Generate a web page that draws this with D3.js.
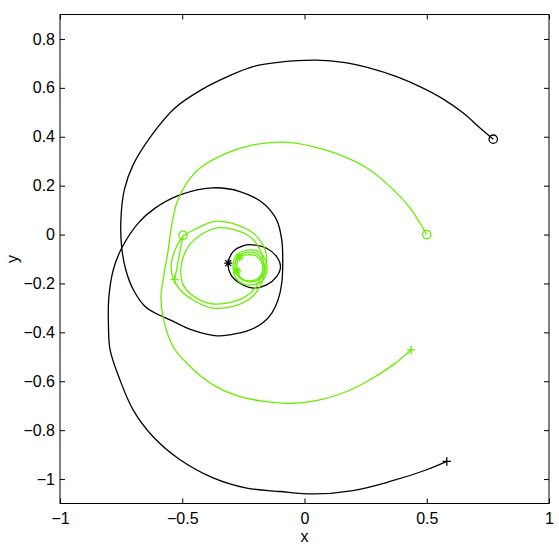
<!DOCTYPE html>
<html>
<head>
<meta charset="utf-8">
<script src="https://d3js.org/d3.v7.min.js"></script>
<style>
  body { margin: 0; background: #fff; }
  svg { display: block; font-family: "Liberation Sans", Arial, Helvetica, sans-serif; }
  .tick text { font-size: 16px; fill: #000; }
  .tick line { stroke: #000; }
  .domain { display: none; }
  .lbl { font-size: 16px; fill: #000; }
</style>
</head>
<body>
<script>
// tick values and labels
var xTicks = [-1, -0.5, 0, 0.5, 1];
var xTickLabels = ["\u22121", "\u22120.5", "0", "0.5", "1"];
var yTicks = [-1, -0.8, -0.6, -0.4, -0.2, 0, 0.2, 0.4, 0.6, 0.8];
var yTickLabels = ["\u22121", "\u22120.8", "\u22120.6", "\u22120.4", "\u22120.2", "0", "0.2", "0.4", "0.6", "0.8"];

// black curves: one long path from o to + (loops once in the middle), plus the small loop
var blackMain = [[0.772,0.390],[0.718,0.436],[0.648,0.498],[0.566,0.555],[0.472,0.605],[0.377,0.646],
  [0.268,0.681],[0.166,0.703],[0.050,0.713],[-0.100,0.705],[-0.211,0.687],[-0.317,0.645],[-0.415,0.596],
  [-0.530,0.518],[-0.624,0.408],[-0.701,0.285],[-0.737,0.183],[-0.751,0.060],[-0.748,-0.049],
  [-0.731,-0.144],[-0.700,-0.226],[-0.652,-0.294],[-0.611,-0.321],[-0.550,-0.349],[-0.461,-0.390],
  [-0.359,-0.414],[-0.305,-0.410],[-0.223,-0.390],[-0.170,-0.361],[-0.133,-0.320],[-0.108,-0.267],
  [-0.093,-0.198],[-0.089,-0.103],[-0.093,-0.022],[-0.114,0.060],[-0.169,0.128],[-0.264,0.176],
  [-0.378,0.191],[-0.509,0.162],[-0.611,0.108],[-0.680,0.047],[-0.748,-0.056],[-0.782,-0.144],
  [-0.800,-0.254],[-0.802,-0.362],[-0.795,-0.472],[-0.755,-0.594],[-0.701,-0.717],[-0.620,-0.826],
  [-0.509,-0.921],[-0.374,-0.995],[-0.236,-1.037],[-0.100,-1.051],[0.035,-1.061],[0.198,-1.047],
  [0.350,-1.010],[0.500,-0.962],[0.582,-0.928]];
var blackInner = [[-0.312,-0.117],[-0.292,-0.070],[-0.252,-0.046],[-0.211,-0.042],[-0.155,-0.056],
  [-0.114,-0.090],[-0.098,-0.132],[-0.114,-0.172],[-0.155,-0.206],[-0.209,-0.219],[-0.264,-0.199],[-0.301,-0.165]];

// green curves
var greenOuter = [[0.500,0.000],[0.431,0.109],[0.350,0.196],[0.254,0.273],[0.145,0.326],[0.035,0.360],
  [-0.080,0.378],[-0.209,0.367],[-0.318,0.333],[-0.427,0.272],[-0.482,0.210],[-0.523,0.128],[-0.545,0.027],
  [-0.558,-0.067],[-0.575,-0.164],[-0.587,-0.254],[-0.579,-0.335],[-0.538,-0.458],[-0.468,-0.540],
  [-0.374,-0.615],[-0.264,-0.663],[-0.155,-0.683],[-0.047,-0.690],[0.063,-0.676],[0.173,-0.642],
  [0.268,-0.594],[0.362,-0.533],[0.436,-0.472]];
var greenMid1 = [[-0.497,-0.008],[-0.436,0.027],[-0.366,0.054],[-0.277,0.040],[-0.211,0.007],[-0.170,-0.042],
  [-0.155,-0.090],[-0.162,-0.151],[-0.182,-0.213],[-0.223,-0.262],[-0.292,-0.294],[-0.381,-0.300],
  [-0.449,-0.272],[-0.504,-0.231],[-0.538,-0.177],[-0.545,-0.123],[-0.531,-0.067]];
var greenMid2 = [[-0.422,0.000],[-0.358,0.027],[-0.284,0.019],[-0.223,-0.009],[-0.186,-0.054],[-0.170,-0.103],
  [-0.174,-0.161],[-0.198,-0.214],[-0.243,-0.255],[-0.313,-0.279],[-0.382,-0.283],[-0.463,-0.245],
  [-0.497,-0.204],[-0.506,-0.150],[-0.497,-0.095],[-0.470,-0.041]];
var greenInnerA = [[-0.276,-0.095],[-0.243,-0.075],[-0.202,-0.075],[-0.174,-0.099],[-0.162,-0.136],
  [-0.174,-0.173],[-0.207,-0.193],[-0.247,-0.189],[-0.276,-0.165],[-0.284,-0.128]];
var greenInnerB = [[-0.268,-0.091],[-0.235,-0.083],[-0.198,-0.087],[-0.176,-0.112],[-0.170,-0.144],
  [-0.186,-0.177],[-0.219,-0.189],[-0.256,-0.181],[-0.274,-0.153],[-0.276,-0.120]];
var greenInnerC = [[-0.280,-0.087],[-0.239,-0.065],[-0.194,-0.067],[-0.164,-0.095],[-0.153,-0.136],
  [-0.166,-0.181],[-0.202,-0.204],[-0.251,-0.202],[-0.284,-0.173],[-0.292,-0.128]];
var greenLink = [[-0.497,-0.003],[-0.531,-0.184]];

// markers
var blackMarkers = [[0.772,0.390,"o"],[0.582,-0.928,"+"],[-0.312,-0.117,"*"]];
var greenMarkers = [[0.500,0.000,"o"],[-0.497,-0.003,"o"],[0.436,-0.472,"+"],[-0.531,-0.184,"+"],
  [-0.266,-0.093,"*"],[-0.276,-0.148,"*"]];

var W = 559, H = 546;
var margin = {left: 60, top: 14.5, right: 10, bottom: 42.5};
var width = W - margin.left - margin.right,
    height = H - margin.top - margin.bottom;
var black = "#000", green = "#66f000";

var svg = d3.select("body").append("svg")
    .attr("width", W)
    .attr("height", H);
var g = svg.append("g")
    .attr("transform", "translate(" + margin.left + "," + margin.top + ")");

var xScale = d3.scaleLinear().domain([-1, 1]).range([0, width]);
var yScale = d3.scaleLinear().domain([-1.1, 0.9]).range([height, 0]);

// axes with inward ticks, MATLAB style
g.append("g")
  .attr("transform", "translate(0," + height + ")")
  .call(d3.axisBottom(xScale).tickValues(xTicks).tickSize(-5).tickPadding(9)
    .tickFormat(function(d, i) { return xTickLabels[i]; }));
g.append("g")
  .call(d3.axisTop(xScale).tickValues(xTicks).tickSize(-5).tickFormat(""));
g.append("g")
  .call(d3.axisLeft(yScale).tickValues(yTicks).tickSize(-5).tickPadding(5)
    .tickFormat(function(d, i) { return yTickLabels[i]; }));
g.append("g")
  .attr("transform", "translate(" + width + ",0)")
  .call(d3.axisRight(yScale).tickValues(yTicks).tickSize(-5).tickFormat(""));

g.append("rect")
  .attr("x", 0).attr("y", 0)
  .attr("width", width).attr("height", height)
  .attr("fill", "none")
  .attr("stroke", "#000")
  .attr("stroke-width", 1);

var openLine = d3.line()
  .x(function(d) { return xScale(d[0]); })
  .y(function(d) { return yScale(d[1]); })
  .curve(d3.curveCatmullRom);
var closedLine = d3.line()
  .x(function(d) { return xScale(d[0]); })
  .y(function(d) { return yScale(d[1]); })
  .curve(d3.curveCatmullRomClosed);
var straight = d3.line()
  .x(function(d) { return xScale(d[0]); })
  .y(function(d) { return yScale(d[1]); });

function drawPath(gen, pts, color) {
  g.append("path")
    .attr("d", gen(pts))
    .attr("fill", "none")
    .attr("stroke", color)
    .attr("stroke-width", 1.3)
    .attr("stroke-linejoin", "round");
}

drawPath(openLine, blackMain, black);
drawPath(closedLine, blackInner, black);

drawPath(openLine, greenOuter, green);
drawPath(closedLine, greenMid1, green);
drawPath(closedLine, greenMid2, green);
drawPath(closedLine, greenInnerA, green);
drawPath(closedLine, greenInnerB, green);
drawPath(closedLine, greenInnerC, green);
drawPath(straight, greenLink, green);

function markerPath(d) {
  var cx = xScale(d[0]), cy = yScale(d[1]), s = 4.2, t = 3;
  if (d[2] == "+") {
    return "M" + (cx - s) + "," + cy + "H" + (cx + s) + "M" + cx + "," + (cy - s) + "V" + (cy + s);
  }
  // asterisk: plus and cross
  return "M" + (cx - 4) + "," + cy + "H" + (cx + 4) + "M" + cx + "," + (cy - 4) + "V" + (cy + 4) +
    "M" + (cx - t) + "," + (cy - t) + "L" + (cx + t) + "," + (cy + t) +
    "M" + (cx - t) + "," + (cy + t) + "L" + (cx + t) + "," + (cy - t);
}

function drawMarkers(list, color) {
  list.forEach(function(d) {
    if (d[2] == "o") {
      g.append("circle")
        .attr("cx", xScale(d[0])).attr("cy", yScale(d[1]))
        .attr("r", 4.2)
        .attr("fill", "none")
        .attr("stroke", color)
        .attr("stroke-width", 1.3);
    } else {
      g.append("path")
        .attr("d", markerPath(d))
        .attr("fill", "none")
        .attr("stroke", color)
        .attr("stroke-width", 1.3);
    }
  });
}
drawMarkers(blackMarkers, black);
drawMarkers(greenMarkers, green);

// axis labels
svg.append("text")
  .attr("class", "lbl")
  .attr("x", margin.left + width / 2)
  .attr("y", 542)
  .attr("text-anchor", "middle")
  .text("x");
svg.append("text")
  .attr("class", "lbl")
  .attr("transform", "translate(18," + (margin.top + yScale(-0.1)) + ") rotate(-90)")
  .attr("text-anchor", "middle")
  .text("y");
</script>
</body>
</html>
